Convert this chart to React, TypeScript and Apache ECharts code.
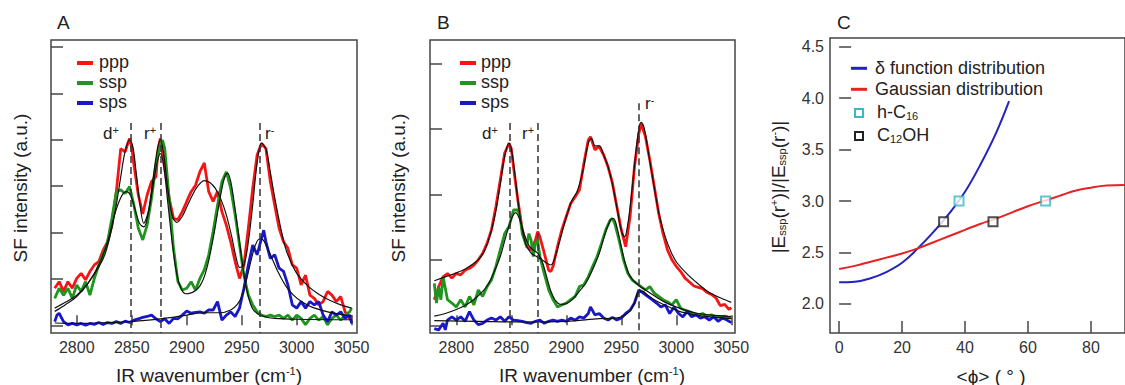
import React, { useEffect, useRef } from "react";
import * as echarts from "echarts";

type P = [number, number][];
const FONT = '"Liberation Sans", Arial, Helvetica, sans-serif';

// ---------- tick values ----------
const xTicks = [2800, 2850, 2900, 2950, 3000, 3050];
const aYTicks = [0, 1, 2, 3, 4, 5, 6];
const bYTicks = [0, 1, 2, 3, 4];
const cXTicks = [0, 20, 40, 60, 80];
const cYTicks = [2.0, 2.5, 3.0, 3.5, 4.0, 4.5];

// ---------- panel A data ----------
const aPpp: P = [[2780,0.8],[2784,0.94],[2788,0.73],[2792,0.94],[2796,0.8],[2800,1.01],[2804,1.12],[2808,0.98],[2812,1.16],[2816,1.3],[2820,1.37],[2824,1.62],[2828,1.8],[2832,2.16],[2836,2.88],[2840,3.81],[2844,3.74],[2848,4.03],[2850,3.85],[2852,3.46],[2856,2.81],[2860,2.4],[2864,2.81],[2868,3.1],[2872,3.2],[2874,3.81],[2876,4.03],[2880,3.38],[2884,2.74],[2888,2.3],[2892,2.28],[2896,2.45],[2900,2.67],[2904,2.88],[2908,3.02],[2912,3.31],[2916,3.5],[2920,2.88],[2924,2.67],[2928,2.88],[2932,2.45],[2936,2.16],[2940,1.8],[2944,1.37],[2948,1.01],[2952,1.3],[2956,2.09],[2960,2.95],[2964,3.67],[2968,3.92],[2972,3.81],[2976,3.1],[2980,2.59],[2984,2.09],[2988,1.8],[2992,1.66],[2996,1.3],[3000,1.23],[3004,0.87],[3008,1.08],[3012,0.65],[3016,0.58],[3020,0.44],[3024,0.51],[3028,0.73],[3032,0.65],[3036,0.51],[3040,0.62],[3044,0.29],[3048,0.15],[3050,0.22]];
const aSsp: P = [[2780,0.58],[2784,0.8],[2788,0.65],[2792,0.8],[2796,0.58],[2800,0.87],[2804,0.73],[2808,0.94],[2812,0.65],[2816,1.01],[2820,1.3],[2824,1.52],[2828,1.8],[2832,2.31],[2836,2.88],[2840,2.92],[2844,2.84],[2848,2.99],[2852,2.59],[2856,2.09],[2860,1.84],[2864,2.16],[2868,2.74],[2872,3.46],[2876,3.89],[2878,3.99],[2880,3.81],[2884,2.74],[2888,1.66],[2892,0.94],[2896,0.76],[2900,0.8],[2904,0.94],[2908,0.76],[2912,1.01],[2916,1.2],[2920,1.52],[2924,2.02],[2928,2.59],[2932,3.1],[2936,3.31],[2940,2.95],[2944,2.38],[2948,1.73],[2952,1.08],[2956,0.65],[2960,0.44],[2964,0.29],[2968,0.22],[2972,0.19],[2976,0.22],[2980,0.19],[2984,0.22],[2988,0.15],[2992,0.22],[2996,0.11],[3000,0.22],[3004,0.15],[3008,0.01],[3012,0.15],[3016,0.22],[3020,0.11],[3024,0.19],[3028,0.01],[3032,0.15],[3036,0.22],[3040,0.11],[3044,0.22],[3048,0.29],[3050,0.37]];
const aSps: P = [[2780,0.08],[2782,0.22],[2784,0.26],[2788,0.08],[2792,0.01],[2796,0.04],[2800,0.01],[2804,0.04],[2808,0.0],[2812,0.04],[2816,0.02],[2820,0.06],[2824,0.02],[2828,0.06],[2832,0.04],[2836,0.08],[2840,0.04],[2844,0.09],[2848,0.06],[2852,0.11],[2856,0.14],[2860,0.17],[2864,0.19],[2868,0.22],[2872,0.14],[2876,0.08],[2880,0.14],[2884,0.04],[2888,0.15],[2892,0.14],[2896,0.22],[2900,0.31],[2904,0.26],[2908,0.28],[2912,0.29],[2916,0.26],[2920,0.33],[2924,0.33],[2928,0.51],[2932,0.11],[2936,0.22],[2940,0.29],[2944,0.19],[2948,0.37],[2952,0.8],[2956,1.3],[2960,1.73],[2964,1.52],[2968,1.88],[2970,2.05],[2972,1.8],[2976,1.44],[2980,1.52],[2984,1.23],[2988,1.16],[2992,0.87],[2996,0.44],[3000,0.37],[3004,0.51],[3008,0.37],[3012,0.51],[3016,0.44],[3020,0.51],[3024,0.22],[3028,0.08],[3032,0.29],[3036,0.22],[3040,0.29],[3044,0.15],[3048,0.22],[3050,0.04]];
const aPppFit: P = [[2780,0.37],[2790,0.5],[2800,0.65],[2810,0.9],[2820,1.25],[2826,1.55],[2832,2.1],[2836,2.6],[2840,3.2],[2844,3.75],[2848,4.0],[2851,3.85],[2854,3.3],[2857,2.7],[2861,2.2],[2865,2.45],[2869,3.1],[2873,3.75],[2876,4.0],[2879,3.7],[2883,2.9],[2887,2.35],[2891,2.22],[2896,2.35],[2900,2.55],[2905,2.8],[2910,3.0],[2916,3.12],[2921,3.08],[2926,2.95],[2931,2.72],[2936,2.38],[2941,1.9],[2945,1.45],[2948,1.25],[2952,1.3],[2956,1.8],[2960,2.6],[2964,3.5],[2968,3.93],[2972,3.8],[2976,3.3],[2980,2.75],[2985,2.15],[2990,1.65],[2995,1.35],[3000,1.12],[3010,0.85],[3020,0.67],[3030,0.54],[3040,0.44],[3050,0.37]];
const aSspFit: P = [[2780,0.3],[2790,0.45],[2800,0.62],[2810,0.9],[2820,1.3],[2828,1.8],[2834,2.35],[2840,2.75],[2845,2.88],[2849,2.8],[2853,2.5],[2857,2.2],[2861,2.12],[2865,2.4],[2869,2.95],[2873,3.5],[2876,3.7],[2879,3.45],[2883,2.6],[2887,1.75],[2891,1.1],[2895,0.78],[2899,0.68],[2904,0.7],[2908,0.75],[2912,0.85],[2916,1.05],[2920,1.4],[2925,2.0],[2930,2.7],[2934,3.15],[2937,3.28],[2940,3.1],[2944,2.5],[2948,1.8],[2952,1.1],[2956,0.62],[2960,0.35],[2965,0.24],[2970,0.19],[2980,0.15],[3000,0.13],[3050,0.12]];
const aSpsFit: P = [[2780,0.05],[2800,0.04],[2820,0.05],[2840,0.07],[2860,0.1],[2880,0.15],[2900,0.22],[2915,0.27],[2930,0.27],[2940,0.33],[2946,0.45],[2950,0.62],[2954,0.95],[2958,1.35],[2962,1.7],[2966,1.86],[2969,1.85],[2973,1.68],[2978,1.42],[2983,1.15],[2990,0.85],[2997,0.65],[3005,0.5],[3015,0.38],[3030,0.28],[3050,0.2]];
const aPeakX = [2849, 2876, 2966];
const aPeakTop = [4.36, 4.36, 4.36];

// ---------- panel B data ----------
const bPpp: P = [[2780,0.39],[2784,0.59],[2788,0.74],[2792,0.79],[2796,0.72],[2800,0.79],[2804,0.77],[2808,0.84],[2812,0.87],[2816,0.92],[2820,1.0],[2824,1.1],[2828,1.25],[2832,1.46],[2836,1.81],[2840,2.22],[2844,2.63],[2848,2.78],[2850,2.7],[2852,2.42],[2856,1.91],[2860,1.46],[2864,1.2],[2868,1.15],[2872,1.3],[2874,1.43],[2876,1.35],[2880,1.1],[2884,0.84],[2886,0.82],[2888,0.9],[2892,1.2],[2896,1.46],[2900,1.66],[2904,1.86],[2908,1.96],[2912,2.07],[2916,2.47],[2920,2.83],[2922,2.88],[2926,2.68],[2930,2.73],[2934,2.6],[2938,2.42],[2942,2.17],[2946,1.81],[2950,1.46],[2954,1.2],[2958,1.66],[2962,2.42],[2966,2.93],[2968,3.08],[2972,2.88],[2976,2.52],[2980,2.12],[2984,1.71],[2988,1.4],[2992,1.15],[2996,1.0],[3000,0.9],[3004,0.82],[3008,0.72],[3012,0.66],[3016,0.6],[3020,0.58],[3024,0.56],[3028,0.5],[3032,0.47],[3036,0.42],[3040,0.3],[3044,0.32],[3048,0.24],[3050,0.27]];
const bSsp: P = [[2780,0.64],[2782,0.34],[2784,0.59],[2786,0.39],[2788,0.74],[2792,0.39],[2796,0.34],[2800,0.28],[2804,0.39],[2808,0.28],[2812,0.44],[2816,0.31],[2820,0.54],[2824,0.44],[2828,0.59],[2832,0.69],[2836,0.9],[2840,1.15],[2844,1.4],[2848,1.51],[2852,1.76],[2856,1.76],[2858,1.66],[2860,1.4],[2864,1.2],[2866,1.4],[2868,1.3],[2870,1.05],[2872,1.25],[2874,1.3],[2876,1.05],[2880,0.79],[2884,0.54],[2888,0.39],[2892,0.28],[2896,0.31],[2900,0.34],[2904,0.39],[2908,0.44],[2912,0.59],[2916,0.62],[2920,0.74],[2924,0.9],[2928,1.05],[2932,1.25],[2936,1.46],[2940,1.61],[2942,1.63],[2944,1.56],[2948,1.3],[2952,1.0],[2956,0.79],[2960,0.69],[2964,0.64],[2968,0.59],[2972,0.54],[2976,0.59],[2980,0.49],[2984,0.44],[2988,0.39],[2992,0.36],[2996,0.31],[3000,0.39],[3004,0.26],[3008,0.23],[3012,0.21],[3016,0.18],[3020,0.16],[3024,0.18],[3028,0.14],[3032,0.16],[3036,0.13],[3040,0.13],[3044,0.14],[3048,0.12],[3050,0.13]];
const bSps: P = [[2780,-0.05],[2784,-0.07],[2788,0.03],[2790,-0.07],[2792,0.08],[2796,0.13],[2800,0.08],[2804,0.13],[2808,0.06],[2812,0.21],[2816,0.08],[2820,0.01],[2824,0.03],[2828,0.08],[2832,0.11],[2836,0.08],[2840,0.13],[2844,0.06],[2848,0.13],[2852,0.08],[2856,0.07],[2860,0.06],[2864,0.04],[2868,0.03],[2872,0.06],[2876,0.08],[2880,0.03],[2884,0.06],[2888,0.08],[2892,0.06],[2896,0.08],[2900,0.06],[2904,0.11],[2908,0.08],[2912,0.13],[2916,0.11],[2920,0.18],[2922,0.28],[2926,0.16],[2930,0.18],[2934,0.11],[2938,0.08],[2942,0.12],[2946,0.08],[2950,0.11],[2954,0.18],[2958,0.23],[2962,0.34],[2966,0.54],[2970,0.49],[2974,0.44],[2978,0.39],[2982,0.34],[2986,0.28],[2990,0.31],[2994,0.18],[2998,0.28],[3002,0.18],[3006,0.13],[3010,0.21],[3014,0.13],[3018,0.16],[3022,0.11],[3026,0.13],[3030,0.08],[3034,0.13],[3038,0.06],[3042,0.11],[3046,0.08],[3050,0.04]];
const bPppFit: P = [[2780,0.68],[2790,0.74],[2800,0.8],[2810,0.88],[2820,1.0],[2826,1.15],[2832,1.45],[2836,1.75],[2840,2.15],[2844,2.58],[2848,2.78],[2851,2.6],[2855,2.05],[2859,1.55],[2863,1.25],[2868,1.1],[2873,1.05],[2878,1.0],[2882,0.95],[2886,0.92],[2890,1.05],[2895,1.35],[2900,1.65],[2905,1.9],[2910,2.05],[2915,2.35],[2920,2.78],[2923,2.85],[2926,2.74],[2930,2.74],[2934,2.6],[2938,2.42],[2942,2.15],[2946,1.8],[2950,1.45],[2953,1.35],[2956,1.55],[2959,1.95],[2963,2.6],[2966,3.0],[2968,3.1],[2971,3.0],[2975,2.6],[2980,2.1],[2985,1.65],[2990,1.35],[2995,1.13],[3000,0.97],[3010,0.78],[3020,0.63],[3030,0.5],[3040,0.42],[3050,0.35]];
const bSspFit: P = [[2780,0.14],[2790,0.18],[2800,0.24],[2810,0.32],[2820,0.45],[2828,0.6],[2834,0.8],[2840,1.05],[2845,1.35],[2850,1.62],[2854,1.72],[2858,1.6],[2862,1.38],[2866,1.22],[2870,1.15],[2874,1.1],[2878,0.98],[2882,0.75],[2886,0.52],[2890,0.38],[2895,0.32],[2900,0.33],[2906,0.4],[2912,0.52],[2918,0.65],[2924,0.85],[2930,1.1],[2935,1.38],[2940,1.6],[2943,1.63],[2946,1.5],[2950,1.2],[2954,0.92],[2958,0.75],[2963,0.65],[2970,0.56],[2980,0.45],[2990,0.35],[3000,0.28],[3010,0.22],[3020,0.18],[3035,0.15],[3050,0.13]];
const bSpsFit: P = [[2780,0.07],[2820,0.06],[2860,0.05],[2900,0.06],[2930,0.1],[2945,0.11],[2952,0.14],[2958,0.22],[2962,0.34],[2966,0.52],[2969,0.52],[2974,0.46],[2980,0.39],[2988,0.32],[2996,0.26],[3005,0.2],[3020,0.15],[3035,0.12],[3050,0.1]];
const bPeakX = [2848.5, 2874.5, 2965.5];
const bPeakTop = [3.09, 3.09, 3.39];

// ---------- panel C data ----------
const cDelta: P = [[0,2.21],[5,2.215],[10,2.25],[15,2.31],[20,2.4],[25,2.54],[30,2.7],[35,2.88],[40,3.09],[45,3.36],[50,3.67],[54,3.97]];
const cGauss: P = [[0,2.34],[5,2.37],[10,2.41],[15,2.45],[20,2.49],[25,2.54],[30,2.6],[35,2.66],[40,2.72],[45,2.78],[50,2.83],[55,2.89],[60,2.95],[65,3.0],[70,3.05],[75,3.1],[80,3.13],[85,3.15],[91,3.155]];
const cHC16: P = [[38.1, 3.0], [65.6, 3.0]];
const cC12OH: P = [[33.2, 2.8], [48.9, 2.8]];

const RED = "#f51515";
const GREEN = "#1f951f";
const BLUE = "#1818c8";
const CRED = "#e82222";
const CBLUE = "#2222c0";
const CYAN = "#3fb7c2";
const INK = "#222";
const FRAME = "#444";

function App() {
  const ref = useRef<HTMLDivElement>(null);
  useEffect(() => {
    if (!ref.current) return;
    const chart = echarts.init(ref.current, undefined, { renderer: "svg" });

    const frame = { show: true, borderColor: FRAME, borderWidth: 1.5, backgroundColor: "rgba(0,0,0,0)" };
    const mkAxis = (gi: number, min: number, max: number, ticks: number[], tickLen: number, showLabel: boolean, fmt: (v: number) => string = (v) => String(v)) => ({
      type: "value", gridIndex: gi, min, max,
      axisLine: { show: false },
      splitLine: { show: false },
      axisTick: { show: true, inside: true, length: tickLen, customValues: ticks, lineStyle: { color: FRAME, width: 1.5 } },
      axisLabel: { show: showLabel, customValues: ticks, margin: 6, fontSize: 16, color: "#333", fontFamily: FONT, formatter: fmt },
    });
    const line = (name: string, data: P, color: string, idx: number, width: number, extra: any = {}) => ({
      type: "line", name, data, xAxisIndex: idx, yAxisIndex: idx, symbol: "none", showSymbol: false,
      lineStyle: { color, width }, itemStyle: { color }, clip: true, silent: true, ...extra,
    });
    const peakLines = (xs: number[], tops: number[], bottom: number) => ({
      silent: true, symbol: ["none", "none"], label: { show: false }, animation: false,
      lineStyle: { color: "#333", type: [7, 4], width: 1.5 },
      data: xs.map((x, i) => [{ coord: [x, tops[i]] }, { coord: [x, bottom] }]),
    });
    const aYMin = -0.166, bYMin = -0.118;

    const txt = (x: number, y: number, text: string, size: number, rich?: any) => ({
      type: "text", x, y, silent: true,
      style: { text, fill: INK, fontSize: size, fontFamily: FONT, align: "left", verticalAlign: "middle", rich },
    });
    const supRich = { sup: { fontSize: 11, fontFamily: FONT, fill: INK, verticalAlign: "top" } };
    const subRich = { sub: { fontSize: 11, fontFamily: FONT, fill: INK, verticalAlign: "bottom" } };
    const legendBar = (x: number, y: number, w: number, h: number, color: string) => ({ type: "rect", silent: true, shape: { x, y, width: w, height: h }, style: { fill: color } });
    const legendSq = (cx: number, cy: number, color: string) => ({ type: "rect", silent: true, shape: { x: cx - 4, y: cy - 4, width: 8, height: 8 }, style: { fill: "#fff", stroke: color, lineWidth: 2 } });
    const title = (x: number, y: number, text: string, rotate: boolean, rich?: any) => ({
      type: "text", x, y, rotation: rotate ? Math.PI / 2 : 0, silent: true,
      style: { text, fill: INK, fontSize: 19, fontFamily: FONT, align: "center", verticalAlign: "middle", rich },
    });

    const legendNames = ["ppp", "ssp", "sps"];
    const legendColors = [RED, GREEN, BLUE];
    const graphic: any[] = [
      txt(57, 22, "A", 19),
      txt(437, 22, "B", 19),
      txt(837, 22, "C", 19),
      title(20, 188, "SF intensity (a.u.)", true),
      title(398, 188, "SF intensity (a.u.)", true),
      title(778, 187, "|E{sub|ssp}(r{sup|+})|/|E{sub|ssp}(r{sup|-})|", true, { ...supRich, ...subRich }),
      title(209, 375, "IR wavenumber (cm{sup|-1})", false, supRich),
      title(592, 375, "IR wavenumber (cm{sup|-1})", false, supRich),
      title(991, 376, "<ϕ> ( ° )", false),
      // peak annotations
      txt(103, 133, "d{sup|+}", 17, supRich),
      txt(144, 133, "r{sup|+}", 17, supRich),
      txt(265, 133, "r{sup|-}", 17, supRich),
      txt(482, 133, "d{sup|+}", 17, supRich),
      txt(522, 133, "r{sup|+}", 17, supRich),
      txt(645, 103, "r{sup|-}", 17, supRich),
      // panel C legend
      legendBar(851, 66.8, 16, 3, CBLUE),
      txt(875, 68, "δ function distribution", 18),
      legendBar(851, 87.8, 16, 3, CRED),
      txt(875, 89, "Gaussian distribution", 18),
      legendSq(859, 113, CYAN),
      txt(877, 112, "h-C{sub|16}", 18, subRich),
      legendSq(859, 136, INK),
      txt(877, 135, "C{sub|12}OH", 18, subRich),
    ];
    legendNames.forEach((n, i) => {
      graphic.push(legendBar(77, 61 + 20 * i, 16, 4, legendColors[i]));
      graphic.push(txt(99, 62 + 20 * i, n, 18));
      graphic.push(legendBar(460, 61 + 20 * i, 16, 4, legendColors[i]));
      graphic.push(txt(481, 62 + 20 * i, n, 18));
    });

    const option: any = {
      animation: false,
      backgroundColor: "#fff",
      grid: [
        { ...frame, left: 51, top: 40, width: 306, height: 293 },
        { ...frame, left: 430, top: 40, width: 305, height: 293 },
        { ...frame, left: 830, top: 38, width: 300, height: 295 },
      ],
      xAxis: [
        mkAxis(0, 2776.6, 3054.8, xTicks, 10, true),
        mkAxis(1, 2776.1, 3053.4, xTicks, 10, true),
        mkAxis(2, -2.9, 90.84, cXTicks, 12, true),
      ],
      yAxis: [
        mkAxis(0, aYMin, 6.15, aYTicks, 12, false),
        mkAxis(1, bYMin, 4.356, bYTicks, 12, false),
        mkAxis(2, 1.718, 4.584, cYTicks, 12, true, (v: number) => v.toFixed(1)),
      ],
      series: [
        line("ppp", aPpp, RED, 0, 2.8),
        line("ssp", aSsp, GREEN, 0, 2.8),
        line("sps", aSps, BLUE, 0, 2.8),
        line("ppp fit", aPppFit, "#111", 0, 1.2, { smooth: 0.35 }),
        line("ssp fit", aSspFit, "#111", 0, 1.2, { smooth: 0.35 }),
        line("sps fit", aSpsFit, "#111", 0, 1.2, { smooth: 0.35, markLine: peakLines(aPeakX, aPeakTop, aYMin) }),
        line("ppp ", bPpp, RED, 1, 2.8),
        line("ssp ", bSsp, GREEN, 1, 2.8),
        line("sps ", bSps, BLUE, 1, 2.8),
        line("ppp fit ", bPppFit, "#111", 1, 1.2, { smooth: 0.35 }),
        line("ssp fit ", bSspFit, "#111", 1, 1.2, { smooth: 0.35 }),
        line("sps fit ", bSpsFit, "#111", 1, 1.2, { smooth: 0.35, markLine: peakLines(bPeakX, bPeakTop, bYMin) }),
        line("δ function distribution", cDelta, CBLUE, 2, 2, { smooth: 0.4 }),
        line("Gaussian distribution", cGauss, CRED, 2, 2, { smooth: 0.4 }),
        { type: "scatter", name: "h-C16", data: cHC16, xAxisIndex: 2, yAxisIndex: 2, symbol: "rect", symbolSize: 9, silent: true, z: 5, itemStyle: { color: "#fff", borderColor: CYAN, borderWidth: 2 } },
        { type: "scatter", name: "C12OH", data: cC12OH, xAxisIndex: 2, yAxisIndex: 2, symbol: "rect", symbolSize: 9, silent: true, z: 5, itemStyle: { color: "#fff", borderColor: INK, borderWidth: 2 } },
      ],
      graphic,
    };
    chart.setOption(option);
    return () => chart.dispose();
  }, []);
  return <div ref={ref} style={{ position: "fixed", left: 0, top: 0, width: 1125, height: 385, background: "#fff" }} />;
}

export default App;
